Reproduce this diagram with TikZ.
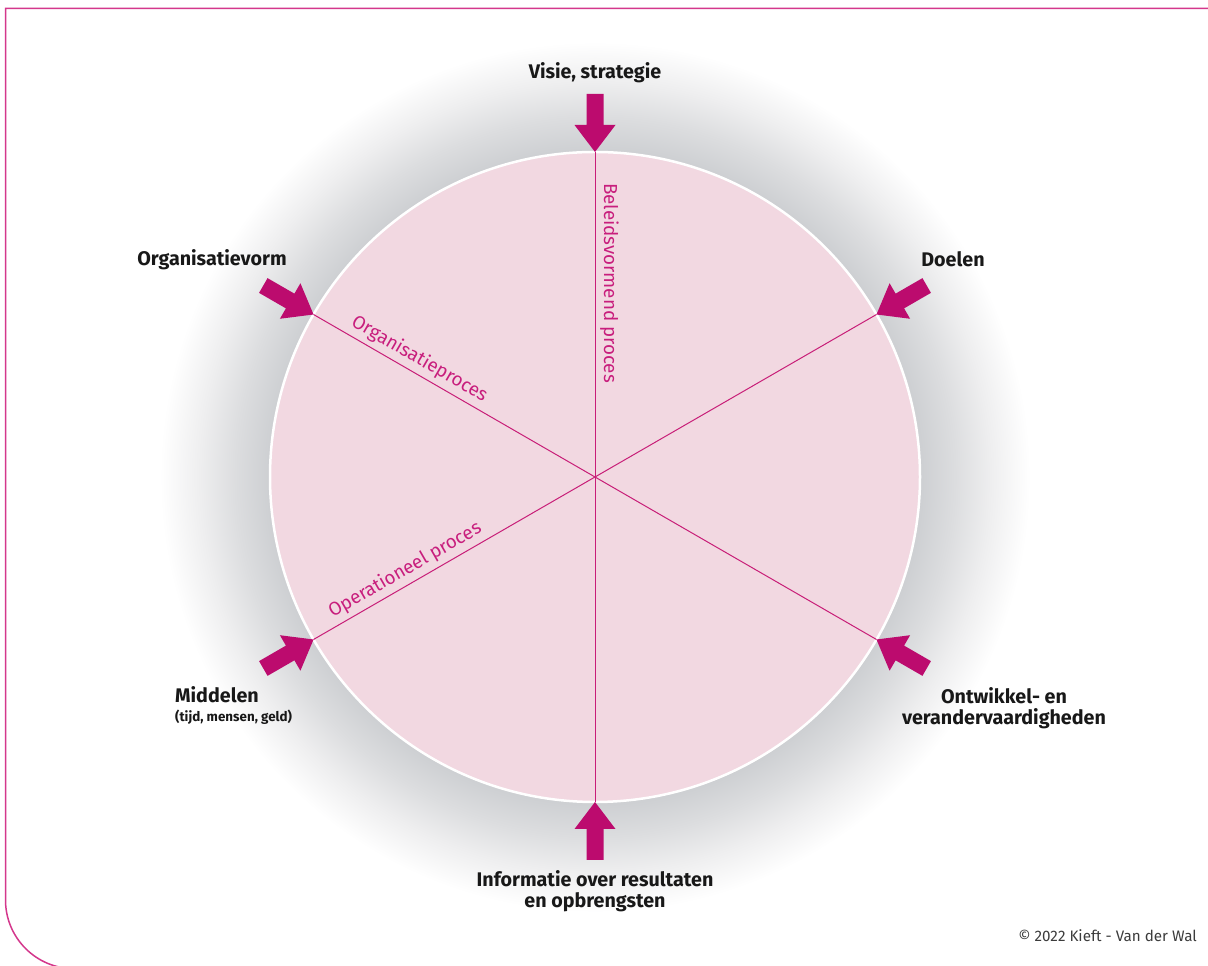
\documentclass[tikz,border=0pt]{standalone}
\usepackage{fontspec}
\setmainfont{Fira Sans}
\usetikzlibrary{calc}
\definecolor{arrowc}{RGB}{188,11,110}
\definecolor{spokec}{RGB}{200,30,120}
\definecolor{procc}{RGB}{200,30,125}
\definecolor{pinkfill}{RGB}{242,216,225}
\definecolor{framec}{RGB}{212,55,140}
\definecolor{txt}{RGB}{24,24,24}
\definecolor{cptxt}{RGB}{60,60,60}
\definecolor{shd}{RGB}{205,207,210}
\definecolor{shdb}{RGB}{220,221,223}
\definecolor{shdc}{RGB}{238,238,239}
\pgfdeclareradialshading{glow}{\pgfpointorigin}{color(0bp)=(shd); color(10.16bp)=(shd); color(11.25bp)=(shdb); color(12.35bp)=(shdc); color(13.6bp)=(white); color(50bp)=(white)}
\tikzset{
  lab/.style={font=\fontsize{19.7}{21}\selectfont\bfseries, text=txt, align=center, inner sep=0pt},
  sublab/.style={font=\fontsize{13.4}{15}\selectfont\bfseries, text=txt, inner sep=0pt},
  proc/.style={font=\fontsize{18.8}{21}\selectfont, text=procc, inner sep=0pt},
  cpy/.style={font=\fontsize{15.2}{17}\selectfont, text=cptxt, inner sep=0pt},
  spoke/.style={draw=spokec, line width=1pt},
  disk/.style={circle, minimum size=650pt, fill=pinkfill, draw=white, line width=2.5pt, inner sep=0pt, outer sep=0pt},
  framel/.style={draw=framec, line width=1.5pt},
  inarrow/.style={fill=arrowc}
}
\begin{document}
\begin{tikzpicture}[x=1pt,y=1pt]
\useasboundingbox (0,0) rectangle (1208,966);
\clip (0,0) rectangle (1208,966);
\fill[white] (0,0) rectangle (1208,966);
\coordinate (C) at (595,489);
\fill[shading=glow] (C) circle (800);
% frame
\draw[framel] (1215,957.5) -- (5.5,957.5) -- (5.5,66) arc (180:270:68.7) -- (1215,-2.7);
% disk
\node[disk] (disk) at (C) {};
\draw[spoke] (disk.90) -- (disk.270);
\draw[spoke] (disk.30) -- (disk.210);
\draw[spoke] (disk.150) -- (disk.330);
% arrows
\foreach \a in {90,30,150,210,270,330}{
  \fill[inarrow, shift={(disk.\a)}, rotate=\a] (0,0) -- (27,20.5) -- (27,8.5) -- (58,8.5) -- (58,-8.5) -- (27,-8.5) -- (27,-20.5) -- cycle;
}
% process labels
\node[proc, rotate=-90, anchor=base] (bp) at ($(C)+(90:194)+(0:9)$) {Beleidsvormend proces};
\node[proc, rotate=-30, anchor=base] (op) at ($(C)+(150:211)+(60:9)$) {Organisatieproces};
\node[proc, rotate=30, anchor=base] (oq) at ($(C)+(210:211)+(120:9)$) {Operationeel proces};
% outer labels
\node[lab, anchor=base] (vis) at (595,887) {Visie, strategie};
\node[lab, anchor=base] (org) at (212,700) {Organisatievorm};
\node[lab, anchor=base] (doe) at (953,699) {Doelen};
\node[lab, anchor=base west] (mid) at (175,263) {Middelen};
\node[sublab, anchor=base west] (midsub) at (175,244) {(tijd, mensen, geld)};
\node[lab, anchor=base] (ont) at (1004,241) {Ontwikkel- en\\verandervaardigheden};
\node[lab, anchor=base] (inf) at (595,58) {Informatie over resultaten\\en opbrengsten};
\node[cpy, anchor=base east] (cp) at (1197,24) {© 2022 Kieft - Van der Wal};
\end{tikzpicture}
\end{document}
